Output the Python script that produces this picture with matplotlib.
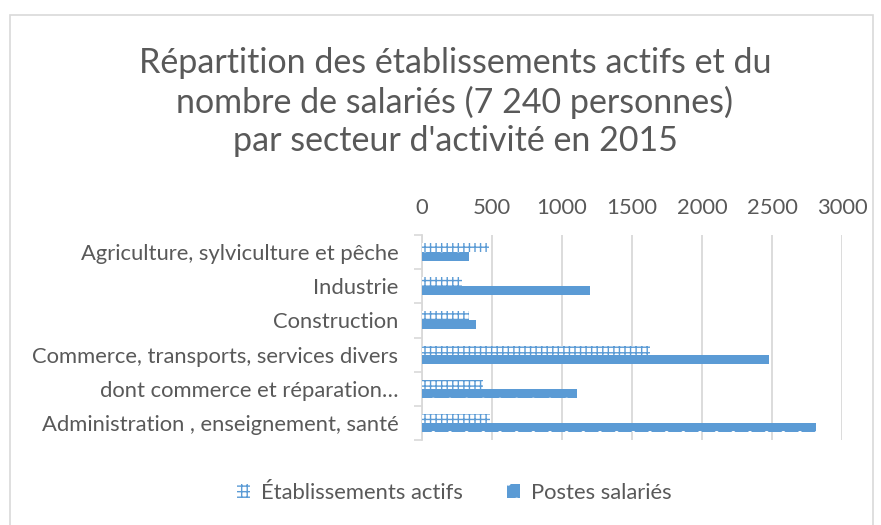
import matplotlib
matplotlib.use("Agg")
import matplotlib.pyplot as plt
from matplotlib.patches import Rectangle
import numpy as np

categories = [
    "Agriculture, sylviculture et pêche",
    "Industrie",
    "Construction",
    "Commerce, transports, services divers",
    "dont commerce et réparation…",
    "Administration , enseignement, santé",
]
etablissements = [475, 283, 338, 1625, 433, 485]
postes = [333, 1201, 388, 2479, 1106, 2817]
xticks = [0, 500, 1000, 1500, 2000, 2500, 3000]

TXT = "#595959"
BLUE = "#5B9BD5"
GRID = "#D9D9D9"
FONT = "Lato"

plt.rcParams["font.family"] = [FONT, "DejaVu Sans"]
plt.rcParams["hatch.linewidth"] = 1.0

fig = plt.figure(figsize=(8.81, 5.25), dpi=100)
fig.patches.append(Rectangle((9.5 / 881, -0.1), 863 / 881, 1.1 - 14.5 / 525,
                             transform=fig.transFigure, fill=False,
                             edgecolor=GRID, linewidth=1.2))

ax = fig.add_axes([422 / 881, 85 / 525, 420 / 881, 205 / 525])

n = len(categories)
y = np.arange(n)[::-1]
h = 0.265
ax.barh(y + h / 2, etablissements, height=h, facecolor="white", edgecolor=BLUE,
        hatch="+++", linewidth=0, label="Établissements actifs", zorder=3)
ax.barh(y - h / 2, postes, height=h, facecolor=BLUE, edgecolor="white",
        hatch=".", linewidth=0, label="Postes salariés", zorder=3)

FS = 15.8
ax.set_xlim(0, 3000)
ax.set_ylim(-0.5, n - 0.5)
ax.set_xticks(xticks)
ax.set_xticklabels([str(v) for v in xticks])
ax.xaxis.tick_top()
ax.tick_params(axis="x", length=0, labelsize=FS, labelcolor=TXT, pad=12)
ax.set_yticks(y)
ax.set_yticklabels(categories)
ax.tick_params(axis="y", which="major", length=0, labelsize=FS, labelcolor=TXT, pad=17)
ax.set_yticks(np.arange(-0.5, n, 1.0), minor=True)
ax.tick_params(axis="y", which="minor", length=6, color=GRID, width=1.2, direction="out")
ax.grid(axis="x", color=GRID, linewidth=1.3, zorder=0)
for s in ["top", "right", "bottom"]:
    ax.spines[s].set_visible(False)
ax.spines["left"].set_color(GRID)
ax.spines["left"].set_linewidth(1.3)

fig.text(455 / 881, 1 - 102 / 525, "Répartition des établissements actifs et du\n"
         "nombre de salariés (7 240 personnes)\npar secteur d'activité en 2015",
         ha="center", va="center", fontsize=24.5, color=TXT, linespacing=1.25)

leg = fig.legend(loc="center", bbox_to_anchor=(454 / 881, 1 - 493 / 525), ncol=2,
                 frameon=False, fontsize=FS, labelcolor=TXT, handlelength=0.6,
                 handleheight=0.6, columnspacing=2.0, handletextpad=0.5)

fig.savefig("out.png", dpi=100)
